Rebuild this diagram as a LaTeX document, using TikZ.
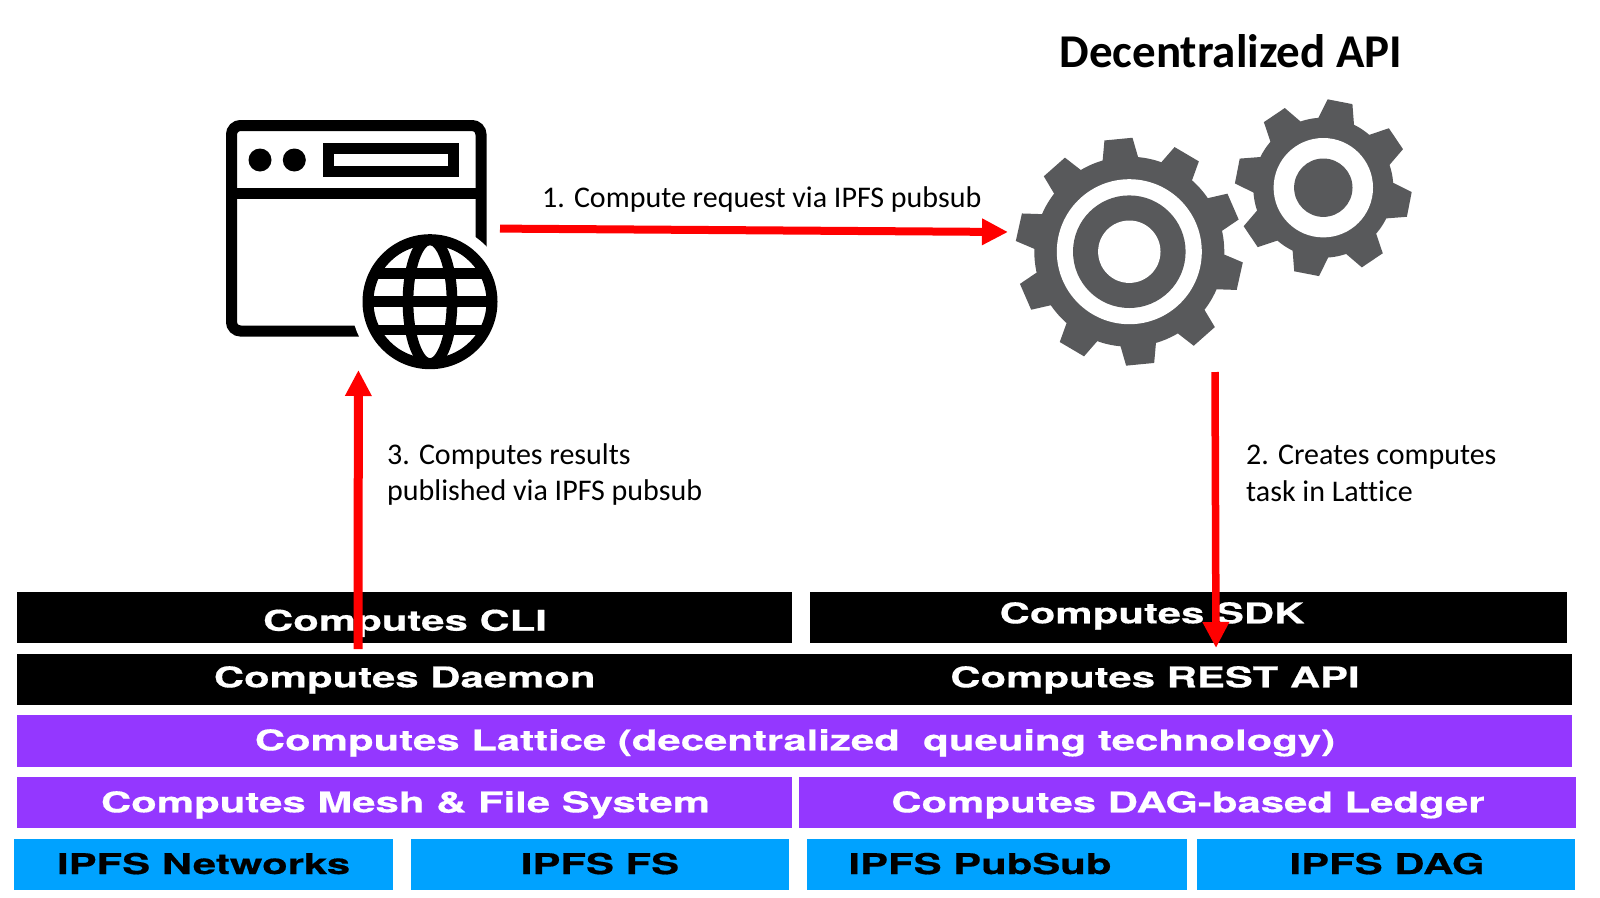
\documentclass[tikz,border=0pt]{standalone}
\usepackage{fontspec}
\usetikzlibrary{arrows.meta,fit}
\setmainfont[Ligatures=NoCommon]{Carlito}
\newfontfamily\layerfont[FakeStretch=1.47,BoldFeatures={FakeStretch=1.47,FakeBold=0.5}]{TeX Gyre Heros}
\definecolor{gearc}{HTML}{58595B}
\definecolor{purplec}{HTML}{9437FF}
\definecolor{bluec}{HTML}{00A2FF}
\definecolor{redc}{HTML}{FF0000}
\tikzset{
  x=1pt,y=-1pt,
  layer/.style={fit={#1},inner sep=0pt,outer sep=0pt,line width=0pt},
  blackbox/.style={fill=black},
  purplebox/.style={fill=purplec},
  bluebox/.style={fill=bluec},
  whitetext/.style={anchor=base,inner sep=0pt,text=white,font=\layerfont\bfseries\fontsize{28.5}{30}\selectfont},
  blacktext/.style={anchor=base,inner sep=0pt,text=black,font=\layerfont\bfseries\fontsize{28.5}{30}\selectfont},
  caption/.style={anchor=base west,inner sep=0pt,align=left,font=\fontsize{30}{36.8}\selectfont},
  flow/.style={draw=redc,-{Triangle[width=25pt,length=26pt]}},
  icon/.style={line width=11pt,draw=black},
}
\begin{document}
\begin{tikzpicture}
\useasboundingbox (0,0) rectangle (1600,897);
\fill[white] (0,0) rectangle (1600,897);

% title
\node[inner sep=0pt,anchor=base,font=\bfseries\fontsize{47}{50}\selectfont] (title) at (1231,67) {Decentralized API};

% browser icon
\draw[icon,rounded corners=9pt] (360,331) -- (231.5,331) -- (231.5,125.5) -- (481,125.5) -- (481,250);
\draw[icon] (231.5,193.7) -- (481,193.7);
\fill (260,160) circle[radius=11.5];
\fill (294.3,160) circle[radius=11.5];
\draw[icon] (328,148.3) rectangle (453.7,171.4);
\fill[white] (430,301.7) circle[radius=79];
\begin{scope}
  \clip (430,301.7) circle[radius=62];
  \draw[icon,line width=10.7pt] (368,301.7) -- (492,301.7);
  \draw[icon,line width=10.7pt] (368,273.4) -- (492,273.4);
  \draw[icon,line width=10.7pt] (368,330) -- (492,330);
  \draw[icon,line width=10.7pt] (430,301.7) ellipse[x radius=22,y radius=62];
\end{scope}
\draw[icon] (430,301.7) circle[radius=62];

% big gear
\begin{scope}[shift={(1129.3,251.7)}]
  \fill[gearc] (0,0) circle[radius=95];
  \foreach \a in {0,36,...,324}{
    \pgfmathsetmacro\t{-95.5-\a}
    \fill[gearc] (\t-10.8:88) -- (\t-10.8:95) -- (\t-7.1:114) -- (\t+7.1:114) -- (\t+10.8:95) -- (\t+10.8:88) -- cycle;
  }
  \fill[white] (0,0) circle[radius=72.5];
  \fill[gearc] (0,0) circle[radius=56.3];
  \fill[white] (0,0) circle[radius=31.2];
\end{scope}
% small gear
\begin{scope}[shift={(1323.3,187.7)}]
  \fill[gearc] (0,0) circle[radius=70];
  \foreach \a in {0,45,...,315}{
    \pgfmathsetmacro\t{-79-\a}
    \fill[gearc] (\t-15:62) -- (\t-15:70) -- (\t-8.2:88.5) -- (\t+8.2:88.5) -- (\t+15:70) -- (\t+15:62) -- cycle;
  }
  \fill[white] (0,0) circle[radius=49.7];
  \fill[gearc] (0,0) circle[radius=29.2];
\end{scope}

% layers
\node[layer={(17.3,591.7)(792.3,642.7)},blackbox] (cli) {};
\node[layer={(809.6,591.7)(1566.7,642.7)},blackbox] (sdk) {};
\node[layer={(17.3,653.7)(1571.8,704.7)},blackbox] (daemon) {};
\node[layer={(17.3,715.3)(1571.8,766.7)},purplebox] (lattice) {};
\node[layer={(17.3,777)(792.3,828.3)},purplebox] (mesh) {};
\node[layer={(799.4,777)(1576,828.3)},purplebox] (dagledger) {};
\node[layer={(14.3,839)(393,890)},bluebox] (net) {};
\node[layer={(410.7,839)(789.3,890)},bluebox] (fs) {};
\node[layer={(806.5,839)(1186.6,890)},bluebox] (pubsub) {};
\node[layer={(1197,839)(1575,890)},bluebox] (dag) {};

\node[whitetext] (tcli) at (405,630.7) {Computes CLI};
\node[whitetext] (tsdk) at (1152,623.3) {Computes SDK};
\node[whitetext] (tdaemon) at (404.7,687.3) {Computes Daemon};
\node[whitetext] (trest) at (1155,687.3) {Computes REST API};
\node[whitetext] (tlattice) at (795,750.3) {Computes Lattice (decentralized\ \ queuing technology)};
\node[whitetext] (tmesh) at (405.5,812.3) {Computes Mesh \& File System};
\node[whitetext] (tledger) at (1188,812.3) {Computes DAG-based Ledger};
\node[blacktext] (tnet) at (203.6,874) {IPFS Networks};
\node[blacktext] (tfs) at (600,874) {IPFS FS};
\node[blacktext] (tpubsub) at (980,874) {IPFS PubSub};
\node[blacktext] (tdag) at (1387,874) {IPFS DAG};

% captions
\node[caption] (c1) at (542,207) {1. Compute request via IPFS pubsub};
\node[caption,anchor=north west] (c3) at (387,443) {3. Computes results\\published via IPFS pubsub};
\node[caption,anchor=north west] (c2) at (1246,445) {2. Creates computes\\task in Lattice};

% arrows
\coordinate (a1s) at (500,228.6);
\coordinate (a1e) at (1008,232);
\coordinate (a2s) at (1215,372);
\coordinate (a2e) at (1216,648);
\coordinate (a3s) at (358,649);
\coordinate (a3e) at (358.4,370);
\draw[flow,line width=8pt] (a1s) -- (a1e);
\draw[flow,line width=7.5pt] (a2s) -- (a2e);
\draw[flow,line width=9pt] (a3s) -- (a3e);
\end{tikzpicture}
\end{document}
